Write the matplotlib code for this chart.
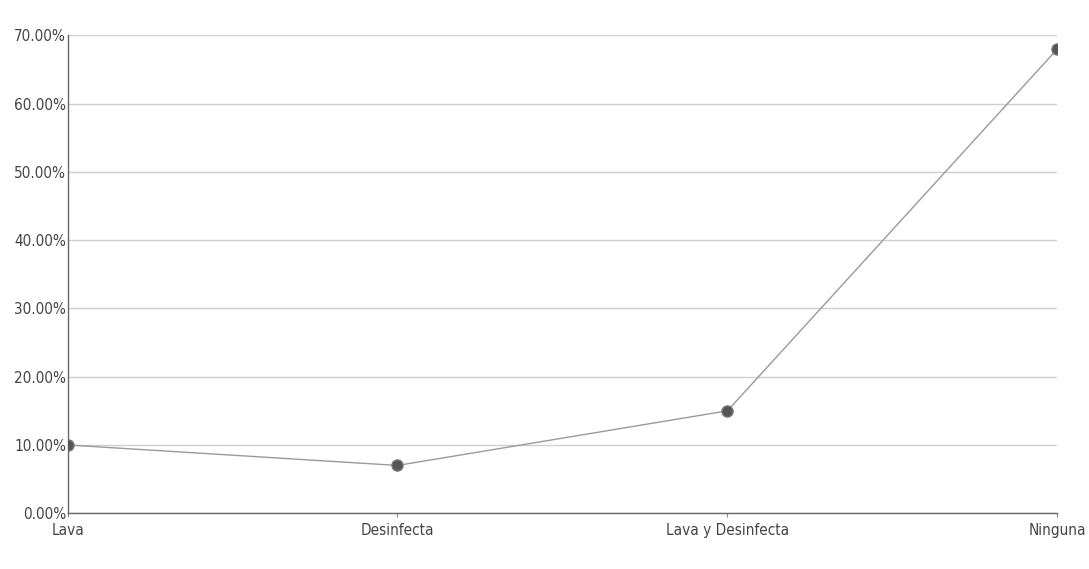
import matplotlib.pyplot as plt
from matplotlib.ticker import FuncFormatter

categories = ['Lava', 'Desinfecta', 'Lava y Desinfecta', 'Ninguna']
values = [10.0, 7.0, 15.0, 68.0]
y_ticks = [0, 10, 20, 30, 40, 50, 60, 70]

plt.rcParams['font.family'] = ['DejaVu Sans']
plt.rcParams['font.stretch'] = 'condensed'

fig = plt.figure(figsize=(10.89, 5.69), dpi=100)
ax = fig.add_axes([0.062, 0.098, 0.909, 0.840])

ax.plot(range(len(categories)), values, color='#9a9a9a', linewidth=1.0, zorder=2)
ax.plot(range(len(categories)), values, linestyle='none', marker='o',
        markersize=8, markerfacecolor='#555555', markeredgecolor='#777777', zorder=3)

ax.set_xlim(0, len(categories) - 1)
ax.set_ylim(0, 70)
ax.set_yticks(y_ticks)
ax.yaxis.set_major_formatter(FuncFormatter(lambda v, p: f'{v:.2f}%'))
ax.set_xticks(range(len(categories)))
ax.set_xticklabels(categories)

ax.grid(axis='y', color='#cfcfcf', linewidth=1.0)
ax.set_axisbelow(True)
for s in ['top', 'right']:
    ax.spines[s].set_visible(False)
for s in ['left', 'bottom']:
    ax.spines[s].set_color('#666666')
    ax.spines[s].set_linewidth(1.0)

ax.tick_params(axis='y', length=0, pad=1, labelsize=11, labelcolor='#444444')
ax.tick_params(axis='x', length=3, color='#888888', pad=4, labelsize=11, labelcolor='#444444')

fig.savefig('out.png', dpi=100, facecolor='white')
